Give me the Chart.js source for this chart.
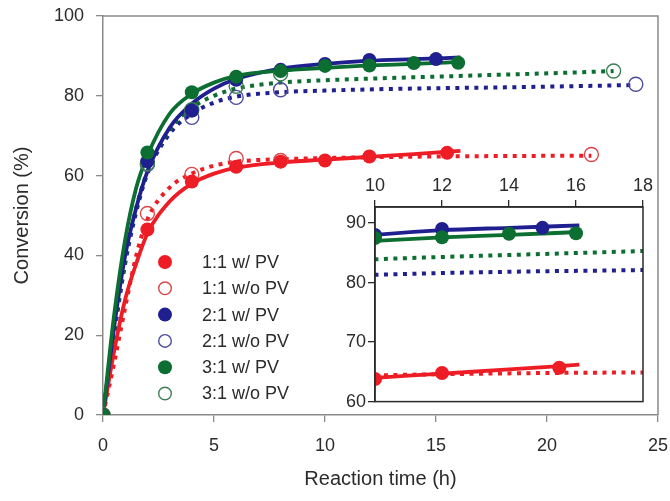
<!DOCTYPE html>
<html>
<head>
<meta charset="utf-8">
<script src="https://cdn.jsdelivr.net/npm/chart.js@4.4.1/dist/chart.umd.min.js"></script>
<style>
  body { margin: 0; background: #fff; }
  #wrap { position: relative; width: 670px; height: 501px; }
  #main { position: absolute; left: 0; top: 0; }
  #inset { position: absolute; left: 330px; top: 170px; }
</style>
</head>
<body>
<div id="wrap">
  <canvas id="main" width="670" height="501"></canvas>
  <canvas id="inset" width="325" height="240"></canvas>
</div>
<script>
// series labels
var seriesNames = ['1:1 w/ PV', '1:1 w/o PV', '2:1 w/ PV', '2:1 w/o PV', '3:1 w/ PV', '3:1 w/o PV'];

// measured points (time in h, conversion in %)
var redWithT = [0, 2, 4, 6, 8, 10, 12, 15.5];
var redWithY = [0, 46.5, 58.5, 62.2, 63.5, 63.8, 64.8, 65.7];
var redWoT = [0, 2, 4, 6, 8, 22];
var redWoY = [0, 50.5, 60.3, 64.3, 63.8, 65.3];
var blueWithT = [0, 2, 4, 6, 8, 10, 12, 15];
var blueWithY = [0, 63.6, 76.3, 84, 86.5, 88, 89, 89.2];
var blueWoT = [0, 2, 4, 6, 8, 24];
var blueWoY = [0, 62.8, 74.6, 79.6, 81.5, 82.9];
var greenWithT = [0, 2, 4, 6, 8, 10, 12, 14, 16];
var greenWithY = [0, 65.8, 80.9, 84.8, 86.2, 87.5, 87.6, 88.2, 88.3];
var greenWoT = [0, 2, 4, 6, 8, 23];
var greenWoY = [0, 63, 76.5, 82.4, 85.5, 86.2];

// fitted curves
var fitWithT = [0, 0.5, 1, 1.5, 2, 3, 4, 5, 6, 8, 10, 12, 14, 16.1];
var fitRedWith = [0, 16, 29, 38, 45.5, 53.5, 58, 60.5, 62, 63.3, 64, 64.7, 65.4, 66.2];
var fitBlueWith = [0, 22, 40, 52, 61, 72, 78, 81.8, 84.2, 86.8, 88, 88.8, 89.2, 89.6];
var fitGreenWith = [0, 25, 44, 57, 65, 75.5, 80.5, 83.3, 85, 86.3, 87, 87.6, 88, 88.5];
var fitRedWoT = [0, 0.5, 1, 1.5, 2, 3, 4, 5, 6, 8, 10, 12, 15, 18, 22];
var fitRedWo = [0, 13, 27, 40, 49, 57, 60.5, 62.5, 63.5, 64.1, 64.4, 64.6, 64.8, 64.9, 65.0];
var fitBlueWoT = [0, 0.5, 1, 1.5, 2, 3, 4, 5, 6, 8, 10, 12, 15, 18, 21, 24];
var fitBlueWo = [0, 20, 38, 51, 60.5, 70.5, 75.5, 78.3, 79.8, 80.9, 81.3, 81.6, 81.9, 82.1, 82.4, 82.7];
var fitGreenWoT = [0, 0.5, 1, 1.5, 2, 3, 4, 5, 6, 8, 10, 12, 15, 18, 21, 23];
var fitGreenWo = [0, 21, 39, 52, 61, 71.5, 77, 80, 81.8, 83.3, 83.9, 84.3, 84.8, 85.3, 85.8, 86.2];

// tick labels
var mainXTicks = [0, 5, 10, 15, 20, 25];
var mainYTicks = [0, 20, 40, 60, 80, 100];
var insetXTicks = [10, 12, 14, 16, 18];
var insetYTicks = [60, 70, 80, 90];

var RED = '#ee1c24', BLUE = '#1f1f8f', GREEN = '#0c6e31';
var RED_O = '#d9474a', BLUE_O = '#4b4b9e', GREEN_O = '#3d7f55';
var FONT = '"Liberation Sans", Arial, sans-serif';
var TXT = '#2b2b2b';

function pts(xs, ys) {
  return xs.map(function (x, i) { return { x: x, y: ys[i] }; });
}

function buildDatasets() {
  var lines = [
    { t: fitRedWoT, y: fitRedWo, c: RED, dash: true },
    { t: fitBlueWoT, y: fitBlueWo, c: BLUE, dash: true },
    { t: fitGreenWoT, y: fitGreenWo, c: GREEN, dash: true },
    { t: fitWithT, y: fitRedWith, c: RED, dash: false },
    { t: fitWithT, y: fitBlueWith, c: BLUE, dash: false },
    { t: fitWithT, y: fitGreenWith, c: GREEN, dash: false }
  ];
  var marks = [
    { t: redWoT, y: redWoY, c: RED_O, filled: false },
    { t: blueWoT, y: blueWoY, c: BLUE_O, filled: false },
    { t: greenWoT, y: greenWoY, c: GREEN_O, filled: false },
    { t: redWithT, y: redWithY, c: RED, filled: true },
    { t: blueWithT, y: blueWithY, c: BLUE, filled: true },
    { t: greenWithT, y: greenWithY, c: GREEN, filled: true }
  ];
  var ds = [];
  var order = 20;
  lines.forEach(function (l) {
    ds.push({
      data: pts(l.t, l.y),
      showLine: true,
      borderColor: l.c,
      borderWidth: l.dash ? 4 : 3.8,
      borderDash: l.dash ? [4, 5.5] : [],
      borderCapStyle: 'butt',
      cubicInterpolationMode: 'monotone',
      pointRadius: 0,
      order: order--
    });
  });
  marks.forEach(function (m) {
    ds.push({
      data: pts(m.t, m.y),
      showLine: false,
      pointRadius: 7,
      pointBorderWidth: m.filled ? 0 : 1.4,
      pointBackgroundColor: m.filled ? m.c : 'rgba(0,0,0,0)',
      pointBorderColor: m.c,
      order: order--
    });
  });
  return ds;
}

function noPadX(s, h) { s.height = h; s.paddingLeft = 0; s.paddingRight = 0; }
function noPadY(s, w) { s.width = w; s.paddingTop = 0; s.paddingBottom = 0; }

var mainFrame = {
  id: 'mainFrame',
  afterDraw: function (chart) {
    var a = chart.chartArea, ctx = chart.ctx;
    ctx.save();
    ctx.strokeStyle = '#8a8a8a';
    ctx.lineWidth = 1.5;
    ctx.beginPath();
    ctx.moveTo(a.left, a.top);
    ctx.lineTo(a.right, a.top);
    ctx.lineTo(a.right, a.bottom);
    ctx.stroke();
    ctx.restore();
  }
};

var legendBox = {
  id: 'legendBox',
  afterDraw: function (chart) {
    var ctx = chart.ctx, a = chart.chartArea;
    var cols = [RED, RED_O, BLUE, BLUE_O, GREEN, GREEN_O];
    ctx.save();
    ctx.font = '18px ' + FONT;
    ctx.textBaseline = 'middle';
    for (var i = 0; i < seriesNames.length; i++) {
      var y = a.top + 246 + i * 26.3;
      var x = a.left + 62;
      ctx.beginPath();
      ctx.arc(x, y, i % 2 === 0 ? 7 : 6.3, 0, Math.PI * 2);
      if (i % 2 === 0) {
        ctx.fillStyle = cols[i];
        ctx.fill();
      } else {
        ctx.strokeStyle = cols[i];
        ctx.lineWidth = 1.4;
        ctx.stroke();
      }
      ctx.fillStyle = TXT;
      ctx.fillText(seriesNames[i], a.left + 99, y + 1);
    }
    ctx.restore();
  }
};

new Chart(document.getElementById('main'), {
  type: 'scatter',
  data: { datasets: buildDatasets() },
  options: {
    responsive: false,
    animation: false,
    layout: { padding: { top: 16, right: 12, left: 0, bottom: 0 } },
    plugins: { legend: { display: false }, tooltip: { enabled: false } },
    scales: {
      x: {
        type: 'linear', min: 0, max: 25,
        afterBuildTicks: function (s) { s.ticks = mainXTicks.map(function (v) { return { value: v }; }); },
        afterFit: function (s) { noPadX(s, 86); },
        grid: { drawOnChartArea: false, tickLength: 7, color: '#8a8a8a', lineWidth: 1.3 },
        border: { color: '#8a8a8a', width: 1.5 },
        ticks: { font: { family: FONT, size: 18 }, color: TXT, padding: 13, maxRotation: 0 },
        title: { display: true, text: 'Reaction time (h)', font: { family: FONT, size: 20 }, color: TXT, padding: { bottom: 10 } }
      },
      y: {
        type: 'linear', min: 0, max: 100,
        afterBuildTicks: function (s) { s.ticks = mainYTicks.map(function (v) { return { value: v }; }); },
        afterFit: function (s) { noPadY(s, 103); },
        grid: { drawOnChartArea: false, tickLength: 7, color: '#8a8a8a', lineWidth: 1.3 },
        border: { color: '#8a8a8a', width: 1.5 },
        ticks: { font: { family: FONT, size: 18 }, color: TXT, padding: 12 },
        title: { display: true, text: 'Conversion (%)', font: { family: FONT, size: 20 }, color: TXT, padding: { top: 10 } }
      }
    }
  },
  plugins: [mainFrame, legendBox]
});

var insetBack = {
  id: 'insetBack',
  beforeDraw: function (chart) {
    var a = chart.chartArea, ctx = chart.ctx;
    ctx.save();
    ctx.fillStyle = '#fff';
    ctx.fillRect(a.left, a.top, a.right - a.left, a.bottom - a.top);
    ctx.restore();
  },
  afterDraw: function (chart) {
    var a = chart.chartArea, ctx = chart.ctx;
    ctx.save();
    ctx.strokeStyle = '#2a2a2a';
    ctx.lineWidth = 1.5;
    ctx.strokeRect(a.left, a.top, a.right - a.left, a.bottom - a.top);
    ctx.restore();
  }
};

new Chart(document.getElementById('inset'), {
  type: 'scatter',
  data: { datasets: buildDatasets() },
  options: {
    responsive: false,
    animation: false,
    layout: { padding: { top: 0, right: 12, left: 0, bottom: 8 } },
    plugins: { legend: { display: false }, tooltip: { enabled: false } },
    scales: {
      x: {
        type: 'linear', position: 'top', min: 10, max: 18,
        afterBuildTicks: function (s) { s.ticks = insetXTicks.map(function (v) { return { value: v }; }); },
        afterFit: function (s) { noPadX(s, 37); },
        grid: { drawOnChartArea: false, tickLength: 7, color: '#2a2a2a', lineWidth: 1.3 },
        border: { color: '#2a2a2a', width: 1.5 },
        ticks: { font: { family: FONT, size: 18 }, color: TXT, padding: 3, maxRotation: 0 }
      },
      y: {
        type: 'linear', min: 60, max: 92.7,
        afterBuildTicks: function (s) { s.ticks = insetYTicks.map(function (v) { return { value: v }; }); },
        afterFit: function (s) { noPadY(s, 45); },
        grid: { drawOnChartArea: false, tickLength: 7, color: '#2a2a2a', lineWidth: 1.3 },
        border: { color: '#2a2a2a', width: 1.5 },
        ticks: { font: { family: FONT, size: 18 }, color: TXT, padding: 2 }
      }
    }
  },
  plugins: [insetBack]
});
</script>
</body>
</html>
